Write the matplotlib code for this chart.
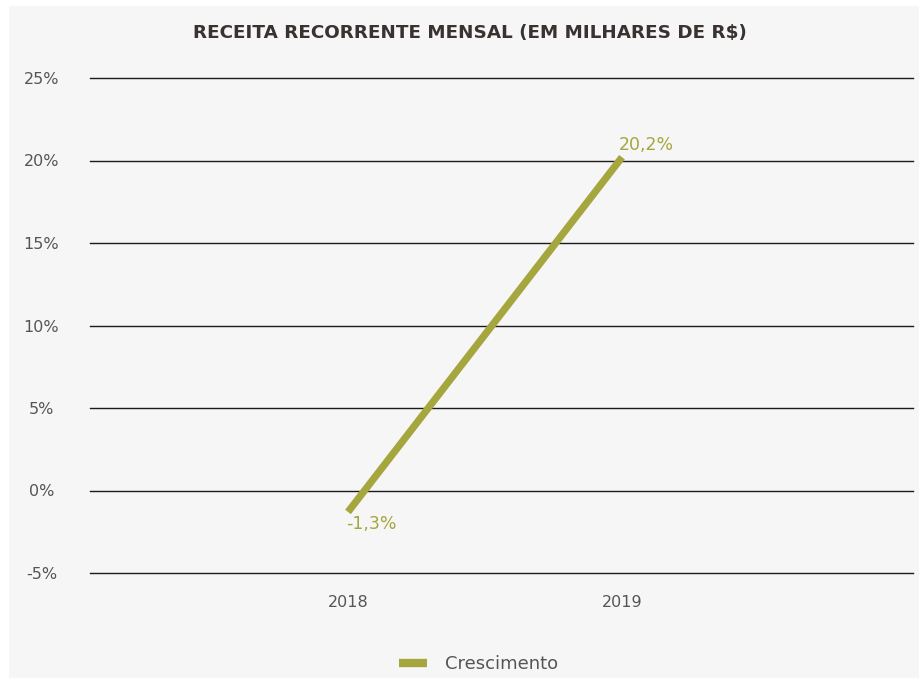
import matplotlib.pyplot as plt
from matplotlib.patches import Rectangle
from matplotlib.lines import Line2D

anos = ['2018', '2019']
crescimento = [-1.3, 20.2]
rotulos = ['-1,3%', '20,2%']
yticks = [-5, 0, 5, 10, 15, 20, 25]

oliva = '#a6a63e'
plt.rcParams['font.family'] = ['DejaVu Sans']

fig = plt.figure(figsize=(9.19, 6.81), dpi=100)
fig.patch.set_facecolor('white')
fig.patches.append(Rectangle((9/919, 3/681), 910/919, 672/681, transform=fig.transFigure,
                             facecolor='#f6f6f6', edgecolor='none', zorder=-5))

ax = fig.add_axes([90/919, 1 - 573/681, 823/919, 495/681])
ax.set_facecolor('none')

x = list(range(len(anos)))
ax.plot(x, crescimento, color=oliva, lw=5.2, solid_capstyle='butt', zorder=3)

for yv in yticks:
    ax.axhline(yv, color='#1e1a18', lw=1.0, zorder=1, clip_on=False)

ax.set_ylim(-5, 25)
ax.set_xlim(-258/274, 1 + 291/274)
ax.set_yticks(yticks)
ax.set_yticklabels([f'{v}%' for v in yticks], ha='center')
ax.set_xticks(x)
ax.set_xticklabels(anos)
ax.tick_params(axis='y', length=0, pad=35, labelsize=11.5, labelcolor='#555555')
ax.tick_params(axis='x', length=0, pad=16, labelsize=11.5, labelcolor='#555555')
for s in ax.spines.values():
    s.set_visible(False)

ax.annotate(rotulos[0], (x[0], crescimento[0]), xytext=(-1, -9), textcoords='offset points',
            ha='left', va='center', color=oliva, fontsize=12.5)
ax.annotate(rotulos[1], (x[1], crescimento[1]), xytext=(-2, 8.5), textcoords='offset points',
            ha='left', va='center', color=oliva, fontsize=12.5)

fig.text(470/919, 1 - 33/681, 'RECEITA RECORRENTE MENSAL (EM MILHARES DE R$)',
         ha='center', va='center', fontsize=13.2, fontweight='bold', color='#3a3230')

handle = Line2D([], [], color=oliva, lw=6, solid_capstyle='butt')
fig.legend([handle], ['Crescimento'], loc='center', bbox_to_anchor=(479/919, 1 - 664/681),
           frameon=False, fontsize=13, handlelength=1.55, handletextpad=1.0,
           labelcolor='#555555')

fig.savefig('out.png', dpi=100)
